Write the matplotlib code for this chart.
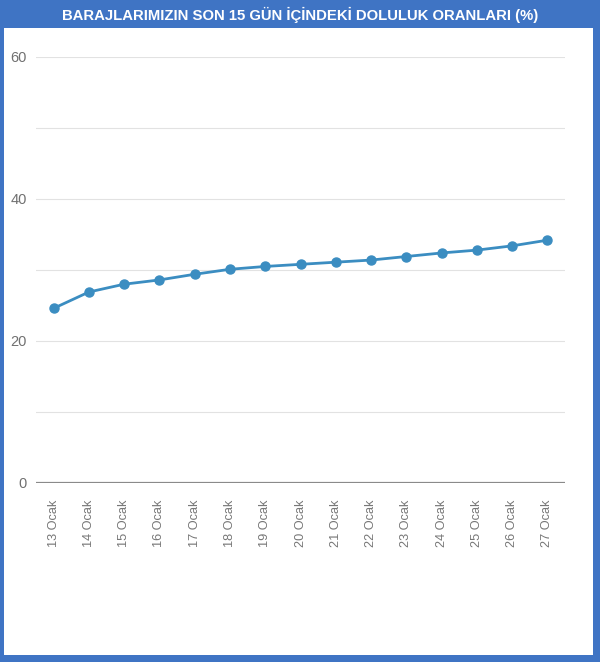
import matplotlib.pyplot as plt
from matplotlib.patches import Rectangle

# Daily dam fill ratios (%)
days = ['13 Ocak', '14 Ocak', '15 Ocak', '16 Ocak', '17 Ocak', '18 Ocak', '19 Ocak',
        '20 Ocak', '21 Ocak', '22 Ocak', '23 Ocak', '24 Ocak', '25 Ocak', '26 Ocak', '27 Ocak']
fill_ratio = [24.6, 26.9, 28.0, 28.6, 29.4, 30.1, 30.5, 30.8, 31.1, 31.4, 31.9, 32.4, 32.8, 33.4, 34.2]
y_ticks = [0, 20, 40, 60]

W, H = 600, 662
border_blue = '#3f74c4'
line_blue = '#3b8dc1'

fig = plt.figure(figsize=(W / 100, H / 100), dpi=100)

# blue frame and title bar
fig.patches.append(Rectangle((0, 0), 1, 1, transform=fig.transFigure,
                             facecolor=border_blue, edgecolor='none', zorder=-2))
fig.patches.append(Rectangle((4 / W, 7 / H), (593 - 4) / W, (H - 28 - 7) / H,
                             transform=fig.transFigure, facecolor='white',
                             edgecolor='none', zorder=-1))
fig.text(0.5, 1 - 15 / H, 'BARAJLARIMIZIN SON 15 GÜN İÇİNDEKİ DOLULUK ORANLARI (%)',
         ha='center', va='center', color='white', fontsize=10.7, fontweight='bold',
         family='Liberation Sans')

# axes: x 36..565, y 57 (60) .. 483 (0)
ax = fig.add_axes([36 / W, 1 - 483 / H, (565 - 36) / W, (483 - 57) / H])
ax.set_facecolor('none')
x = list(range(len(days)))
ax.plot(x, fill_ratio, '-o', color=line_blue, linewidth=2, markersize=6.5, zorder=3)

ax.set_ylim(0, 60)
ax.set_xlim(-0.5, len(days) - 0.5)
for v in range(10, 61, 10):
    ax.axhline(v, color='#e2e2e2', linewidth=0.8, zorder=1)
ax.axhline(0, color='#8a8a8a', linewidth=1.6, zorder=2)

ax.set_yticks(y_ticks)
ax.set_yticklabels([str(t) for t in y_ticks], color='#707070', fontsize=10.5,
                   family='Liberation Sans')
ax.set_xticks(x)
ax.set_xticklabels(days, rotation=90, color='#777777', fontsize=9.2,
                   family='Liberation Sans', va='top')
ax.tick_params(axis='both', length=0)
ax.tick_params(axis='y', pad=6.5)
ax.tick_params(axis='x', pad=12)
for s in ax.spines.values():
    s.set_visible(False)

fig.savefig('out.png', dpi=100)
